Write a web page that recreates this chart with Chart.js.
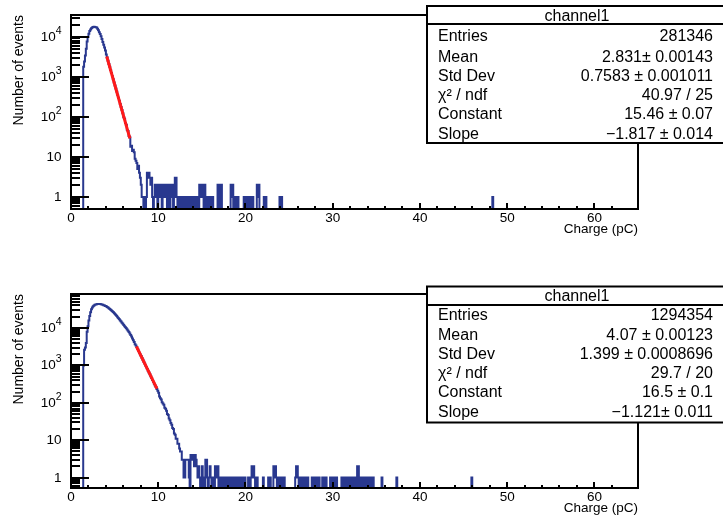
<!DOCTYPE html>
<html>
<head>
<meta charset="utf-8">
<title>channel1 charge spectra</title>
<script src="https://cdn.jsdelivr.net/npm/chart.js@4.4.1/dist/chart.umd.min.js"></script>
<style>
  html, body { margin: 0; padding: 0; background: #fff; }
  canvas { position: absolute; left: 0; }
  #topPanel { top: 0; }
  #bottomPanel { top: 279px; }
</style>
</head>
<body>
<canvas id="topPanel" width="723" height="240"></canvas>
<canvas id="bottomPanel" width="723" height="240"></canvas>
<script>
// ---- histogram binning (pC) ----
const BIN_WIDTH = 0.1;
const X_MIN = 0;
const X_MAX = 65;

// ---- top panel: counts per 0.1 pC bin ----
const topBodyStart = 1.4;
const topBody = [
  1780, 2400, 3390, 5010, 7590, 9770,                              // 1.4 - 1.9
  11750, 13800, 15100, 16200, 17000, 17400, 17600, 17400, 17200, 16900, // 2.x
  15800, 14500, 12900, 11700, 10200, 8700, 7400, 6300, 5400, 4500,  // 3.x
  3600, 3020, 2510, 2090, 1770, 1480, 1230, 1030, 870, 720,         // 4.x
  600, 510, 425, 355, 300, 250, 210, 175, 148, 122,                 // 5.x
  98, 90, 70, 63, 47, 44, 33, 31, 18, 19                            // 6.x
];
const topTailStart = 7.0;
const topTail = [
  14, 15, 13, 9, 8, 7, 5, 6, 4, 3,   // 7.x
  2, 1, 1, 0, 1, 0, 1, 4, 3, 4,      // 8.x
  3, 2, 3, 1, 0, 1, 2, 1, 2, 0,      // 9.x
  2, 2, 1, 2, 0, 2, 2, 1, 2, 2,      // 10.x
  0, 2, 1, 0, 2, 1, 2, 0, 1, 3,      // 11.x
  3, 1, 0, 1, 0, 1, 0, 1, 0, 1,      // 12.x
  0, 1, 0, 1, 0, 1, 1, 0, 1, 0,      // 13.x
  1, 0, 1, 0, 1, 0, 0, 2, 2, 1,      // 14.x
  2, 2, 0, 2, 1, 0, 1, 0, 1, 0,      // 15.x
  1, 0, 1, 0, 0, 0, 0, 0, 2, 2,      // 16.x
  0, 2, 2, 0, 0, 0, 0, 0, 0, 0,      // 17.x
  0, 0, 0, 2, 1, 2, 0, 1, 0, 1,      // 18.x
  0, 1, 0, 0, 0, 0, 0, 0, 1, 0,      // 19.x
  1, 0, 0, 1, 0, 1, 0, 1, 1, 0,      // 20.x
  0, 0, 0, 2, 1, 2, 0, 0, 0, 0,      // 21.x
  0, 1, 0, 1, 0, 0, 0, 0, 0, 0,      // 22.x
  0, 0, 0, 0, 0, 0, 0, 0, 0, 1,      // 23.x
  0, 1                               // 24.x
];
const topFarBins = [48.3];
const topFitX = [4.1, 6.75];
const topFitY = [3200, 29];

// ---- bottom panel: counts per 0.1 pC bin ----
const bottomBodyStart = 1.4;
const bottomBody = [
  1000, 2630, 3020, 3980, 7940, 11200,                                  // 1.4 - 1.9
  15800, 20900, 26300, 31600, 35500, 38000, 39800, 41700, 42700, 43100, // 2.x
  43600, 43700, 43600, 43500, 43100, 42600, 41700, 40700, 39800, 38900, // 3.x
  38000, 36700, 35500, 33900, 32400, 30900, 29500, 28200, 26600, 25100, // 4.x
  23700, 22400, 20900, 19500, 18200, 17000, 15800, 14800, 13800, 12900, // 5.x
  12000, 11200, 10500, 9800, 9100, 8500, 7800, 7100, 6500, 5900,        // 6.x
  5250, 4700, 4200, 3700, 3400, 3090, 2750, 2450, 2190, 1950,           // 7.x
  1780, 1580, 1410, 1260, 1120, 1000, 890, 795, 710, 645,               // 8.x
  575, 510, 457, 407, 363, 324, 288, 263, 234, 209,                     // 9.x
  185, 148, 132, 122, 104, 95, 88, 74, 69, 61,                          // 10.x
  50, 47, 38, 34, 29, 26, 21, 20, 15, 14,                               // 11.x
  11, 11, 8, 8, 6, 5, 5, 3, 3, 1                                        // 12.x
];
const bottomTailStart = 13.0;
const bottomTail = [
  1, 3, 3, 3, 3, 1, 0, 4, 4, 3,      // 13.x
  4, 2, 4, 3, 2, 1, 2, 1, 0, 1,      // 14.x
  2, 0, 1, 0, 3, 3, 1, 0, 1, 2,      // 15.x
  1, 0, 1, 1, 0, 2, 2, 1, 2, 0,      // 16.x
  1, 0, 1, 0, 1, 1, 0, 0, 1, 0,      // 17.x
  1, 0, 1, 0, 1, 0, 1, 0, 1, 0,      // 18.x
  1, 0, 1, 0, 1, 0, 1, 1, 0, 1,      // 19.x
  0, 0, 0, 1, 0, 0, 1, 2, 1, 2,      // 20.x
  1, 0, 1, 1, 0, 0, 0, 0, 0, 0,      // 21.x
  1, 0, 0, 0, 0, 0, 1, 0, 1, 0,      // 22.x
  0, 0, 2, 1, 2, 1, 0, 1, 0, 1,      // 23.x
  0, 1, 0, 1, 1, 0, 0, 0, 0, 0,      // 24.x
  0, 0, 0, 0, 0, 0, 0, 1, 2, 2,      // 25.x
  1, 0, 1, 0, 1, 0, 0, 1, 0, 1,      // 26.x
  0, 1, 0, 0, 0, 0, 1, 0, 1, 1,      // 27.x
  0, 0, 1, 0, 1, 0, 0, 0, 1, 0,      // 28.x
  1, 0, 1, 0, 0, 0, 0, 1, 0, 1,      // 29.x
  0, 1, 0, 1, 1, 0, 0, 0, 0, 0,      // 30.x
  1, 0, 1, 0, 1, 0, 1, 0, 1, 1,      // 31.x
  0, 1, 0, 1, 0, 1, 0, 0, 2, 2,      // 32.x
  0, 0, 1, 0, 1, 0, 0, 1, 0, 1,      // 33.x
  0, 1, 0, 1, 0, 1, 1, 0, 0, 0,      // 34.x
  0, 0, 0, 0, 0, 0, 1, 0, 0, 0,      // 35.x
  0, 0, 0, 0, 0, 0, 0, 0, 0, 0,      // 36.x
  0, 0, 0, 1                         // 37.x
];
const bottomFarBins = [45.9];
const bottomFitX = [7.5, 9.85];
const bottomFitY = [3200, 240];

// ---- axis ranges and tick labels ----
const topYRange = [0.5, 34700];
const bottomYRange = [0.526, 81100];
const decadeBase = ['1', '10', '10', '10', '10', '10'];
const decadeExp = ['', '', '2', '3', '4', '5'];
const xLabelStep = 10;

// ---- stats boxes ----
const statTitle = 'channel1';
const statLabels = ['Entries', 'Mean', 'Std Dev', '\u03c7\u00b2 / ndf', 'Constant', 'Slope'];
const topStatValues = ['281346', '2.831\u00b1 0.00143', '0.7583 \u00b1 0.001011', '40.97 / 25', '15.46 \u00b1 0.07', '\u22121.817 \u00b1 0.014'];
const bottomStatValues = ['1294354', '4.07 \u00b1 0.00123', '1.399 \u00b1 0.0008696', '29.7 / 20', '16.5 \u00b1 0.1', '\u22121.121\u00b1 0.011'];

const HIST_COLOR = '#29388f';
const FIT_COLOR = '#ff1a1a';
const FONT = '"Liberation Sans", Arial, Helvetica, sans-serif';

Chart.defaults.font.family = FONT;
Chart.defaults.color = '#000';

/**
 * Put body, tail and isolated bins into one 0-65 pC bin array
 */
function fillBins(bodyStart, body, tailStart, tail, farBins) {
  const nBins = Math.round((X_MAX - X_MIN) / BIN_WIDTH);
  const bins = new Array(nBins).fill(0);
  const put = (edge, n) => { bins[Math.round((edge - X_MIN) / BIN_WIDTH)] += n; };
  body.forEach((n, i) => put(bodyStart + i * BIN_WIDTH, n));
  tail.forEach((n, i) => put(tailStart + i * BIN_WIDTH, n));
  farBins.forEach(edge => put(edge, 1));
  return bins;
}

/**
 * Bin edges as step points; empty bins go below the log floor (clipped)
 */
function histPoints(bins, floor) {
  const pts = bins.map((n, i) => ({ x: X_MIN + i * BIN_WIDTH, y: n > 0 ? n : floor }));
  pts.push({ x: X_MAX, y: floor });
  return pts;
}

// frame, inward ROOT-style ticks, decade labels and the stats box
const rootDecor = {
  id: 'rootDecor',
  afterDatasetsDraw(chart, args, opts) {
    const { ctx, chartArea: a, scales: { x, y } } = chart;
    ctx.save();
    ctx.strokeStyle = '#000';
    ctx.fillStyle = '#000';
    ctx.lineWidth = 2;

    // y ticks: 1..9 per decade, labels on the decades
    ctx.beginPath();
    const e0 = Math.floor(Math.log10(y.min));
    const e1 = Math.ceil(Math.log10(y.max));
    ctx.textBaseline = 'middle';
    for (let e = e0; e <= e1; e++) {
      for (let m = 1; m <= 9; m++) {
        const v = m * Math.pow(10, e);
        if (v <= y.min || v >= y.max) continue;
        const py = Math.round(y.getPixelForValue(v));
        ctx.moveTo(a.left, py);
        ctx.lineTo(a.left + (m === 1 ? 18 : 9), py);
        if (m === 1 && e >= 0 && decadeBase[e]) {
          const right = a.left - 9.5;
          const sup = decadeExp[e];
          ctx.font = '10.5px ' + FONT;
          const supW = sup ? ctx.measureText(sup).width : 0;
          ctx.textAlign = 'right';
          if (sup) ctx.fillText(sup, right, py - 6);
          ctx.font = '13.5px ' + FONT;
          ctx.fillText(decadeBase[e], right - supW, py);
        }
      }
    }
    x.ticks.forEach(t => {
      if (t.value <= x.min || t.value >= x.max || t.value % 2 !== 0) return;
      const px = Math.round(x.getPixelForValue(t.value));
      ctx.moveTo(px, a.bottom);
      ctx.lineTo(px, a.bottom - (t.value % xLabelStep === 0 ? 6 : 3));
    });
    ctx.stroke();
    ctx.strokeRect(a.left, a.top, a.right - a.left, a.bottom - a.top);

    // stats box
    const b = opts.box;
    ctx.fillStyle = '#fff';
    ctx.fillRect(b.left, b.top, 400, b.bottom - b.top);
    ctx.strokeRect(b.left, b.top, 400, b.bottom - b.top);
    ctx.beginPath();
    ctx.moveTo(b.left, b.sep);
    ctx.lineTo(b.left + 400, b.sep);
    ctx.stroke();

    ctx.fillStyle = '#000';
    ctx.font = '16px ' + FONT;
    ctx.textAlign = 'center';
    ctx.fillText(opts.title, b.titleX, b.titleY);
    opts.labels.forEach((label, i) => {
      ctx.textAlign = 'left';
      ctx.fillText(label, b.textLeft, b.rows[i]);
      ctx.textAlign = 'right';
      ctx.fillText(opts.values[i], b.textRight, b.rows[i]);
    });
    ctx.restore();
  }
};

/**
 * One histogram panel
 */
function renderPanel(canvasId, bins, fitX, fitY, yRange, statValues, box) {
  const ctx = document.getElementById(canvasId).getContext('2d');
  return new Chart(ctx, {
    type: 'line',
    data: {
      datasets: [
        {
          label: 'expo fit',
          data: fitX.map((v, i) => ({ x: v, y: fitY[i] })),
          borderColor: FIT_COLOR,
          borderWidth: 3,
          pointRadius: 0,
          order: 0
        },
        {
          label: 'channel1',
          data: histPoints(bins, yRange[0] / 10),
          borderColor: HIST_COLOR,
          borderWidth: 2,
          pointRadius: 0,
          stepped: true,
          order: 1
        }
      ]
    },
    options: {
      responsive: false,
      animation: false,
      events: [],
      layout: { padding: { top: 15, right: 85, left: 0, bottom: 0 } },
      plugins: {
        legend: { display: false },
        tooltip: { enabled: false },
        rootDecor: { box: box, title: statTitle, labels: statLabels, values: statValues }
      },
      scales: {
        x: {
          type: 'linear',
          min: X_MIN,
          max: X_MAX,
          grid: { display: false, drawTicks: false },
          border: { display: false },
          ticks: {
            stepSize: 2,
            autoSkip: false,
            maxRotation: 0,
            padding: 1,
            font: { size: 13.5 },
            callback: v => (v % xLabelStep === 0 ? String(v) : '')
          },
          title: {
            display: true,
            text: 'Charge (pC)',
            align: 'end',
            font: { size: 13.5 },
            padding: { top: 0, bottom: 3 }
          },
          afterFit: s => { s.height = 31; }
        },
        y: {
          type: 'logarithmic',
          min: yRange[0],
          max: yRange[1],
          grid: { display: false, drawTicks: false },
          border: { display: false },
          ticks: { display: false },
          title: {
            display: true,
            text: 'Number of events',
            align: 'end',
            font: { size: 14 },
            padding: { top: 10.5, bottom: 0 }
          },
          afterFit: s => { s.width = 71; }
        }
      }
    },
    plugins: [rootDecor]
  });
}

renderPanel('topPanel',
  fillBins(topBodyStart, topBody, topTailStart, topTail, topFarBins),
  topFitX, topFitY, topYRange, topStatValues,
  { left: 427, top: 6, sep: 24, bottom: 143, titleX: 577, titleY: 16.5,
    textLeft: 438, textRight: 713, rows: [36.7, 57.5, 77, 95.8, 114.5, 135] });

renderPanel('bottomPanel',
  fillBins(bottomBodyStart, bottomBody, bottomTailStart, bottomTail, bottomFarBins),
  bottomFitX, bottomFitY, bottomYRange, bottomStatValues,
  { left: 427, top: 7.5, sep: 26, bottom: 143.5, titleX: 577, titleY: 18,
    textLeft: 438, textRight: 713, rows: [36.8, 56.2, 75.2, 95, 113.8, 133.8] });
</script>
</body>
</html>
